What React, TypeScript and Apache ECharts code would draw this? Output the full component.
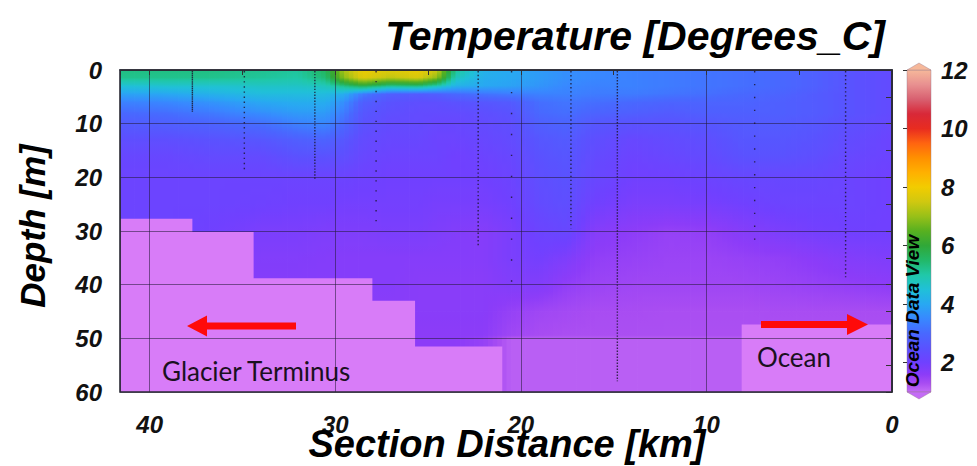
import React, { useEffect, useRef } from 'react';
import * as echarts from 'echarts';

// ---------- data ----------
// section distance of the grid columns (km), left (glacier) to right (ocean)
const distanceKm = [41.6, 39, 36.5, 34, 32, 30.5, 29.5, 28.5, 27, 25.5, 24.5, 23.5, 22, 20.5, 19, 17.5, 16, 14, 12, 10, 8, 6, 4, 2, 0];
// depth of the grid rows (m)
const depthM = [0, 1.5, 3, 4.5, 6, 8, 10, 13, 16, 20, 25, 30, 35, 40, 45, 49.5, 50, 60];
// temperature (deg C), one row per depth, one value per distance column
const temperature = [
  [5.3, 5.3, 5.3, 5.2, 5.1, 5.6, 7.2, 7.9, 7.7, 7.9, 7.5, 5.2, 4.2, 4.0, 3.8, 3.6, 3.5, 3.4, 3.3, 3.2, 3.1, 3.0, 2.8, 2.5, 2.3],
  [5.2, 5.2, 5.2, 5.1, 5.0, 5.4, 6.9, 7.7, 7.3, 7.6, 6.9, 4.8, 4.1, 4.0, 3.8, 3.6, 3.5, 3.4, 3.3, 3.2, 3.1, 3.0, 2.8, 2.5, 2.3],
  [4.5, 4.6, 4.6, 4.7, 4.7, 4.8, 5.3, 5.8, 5.2, 5.4, 4.9, 4.2, 4.0, 3.9, 3.7, 3.5, 3.4, 3.4, 3.3, 3.2, 3.1, 3.0, 2.8, 2.5, 2.3],
  [3.9, 4.0, 4.2, 4.4, 4.4, 4.4, 4.1, 3.3, 2.8, 2.7, 2.8, 3.0, 3.2, 3.3, 3.4, 3.4, 3.3, 3.3, 3.2, 3.1, 3.0, 2.9, 2.7, 2.5, 2.3],
  [3.4, 3.5, 3.7, 4.0, 4.1, 4.1, 3.6, 2.8, 2.5, 2.4, 2.4, 2.5, 2.6, 2.7, 3.1, 3.2, 3.1, 3.0, 2.9, 2.9, 2.9, 2.8, 2.7, 2.5, 2.3],
  [3.0, 3.1, 3.3, 3.6, 3.8, 3.8, 3.3, 2.6, 2.4, 2.3, 2.3, 2.3, 2.4, 2.5, 3.0, 3.1, 2.9, 2.8, 2.7, 2.8, 2.8, 2.8, 2.7, 2.5, 2.3],
  [2.7, 2.8, 2.9, 3.1, 3.4, 3.5, 3.0, 2.5, 2.3, 2.3, 2.2, 2.2, 2.3, 2.4, 2.8, 2.9, 2.6, 2.5, 2.5, 2.6, 2.7, 2.7, 2.6, 2.4, 2.2],
  [2.4, 2.4, 2.5, 2.6, 2.8, 2.9, 2.6, 2.3, 2.2, 2.2, 2.1, 2.1, 2.2, 2.3, 2.6, 2.7, 2.4, 2.2, 2.3, 2.4, 2.6, 2.6, 2.5, 2.3, 2.1],
  [2.2, 2.2, 2.3, 2.3, 2.5, 2.5, 2.4, 2.2, 2.1, 2.1, 2.1, 2.0, 2.1, 2.2, 2.5, 2.6, 2.3, 2.1, 2.2, 2.3, 2.5, 2.5, 2.4, 2.2, 2.1],
  [2.1, 2.1, 2.1, 2.1, 2.1, 2.1, 2.1, 2.05, 2.0, 2.0, 2.0, 2.0, 2.0, 2.1, 2.4, 2.5, 2.2, 2.0, 2.0, 2.1, 2.2, 2.2, 2.2, 2.1, 2.0],
  [2.1, 2.1, 2.1, 2.05, 2.0, 2.0, 1.95, 1.95, 1.95, 1.95, 1.9, 1.9, 1.9, 2.0, 2.3, 2.4, 2.0, 1.85, 1.85, 1.9, 2.0, 2.1, 2.1, 2.1, 2.0],
  [2.1, 2.1, 2.0, 1.85, 1.85, 1.8, 1.8, 1.8, 1.85, 1.85, 1.8, 1.75, 1.7, 1.85, 2.1, 2.2, 1.7, 1.6, 1.5, 1.55, 1.7, 1.85, 1.95, 2.0, 2.0],
  [1.9, 1.9, 1.8, 1.75, 1.75, 1.72, 1.7, 1.7, 1.7, 1.7, 1.7, 1.7, 1.7, 1.85, 1.95, 1.8, 1.55, 1.5, 1.45, 1.45, 1.5, 1.55, 1.65, 1.75, 1.8],
  [1.7, 1.7, 1.7, 1.7, 1.7, 1.7, 1.7, 1.7, 1.7, 1.65, 1.65, 1.65, 1.65, 1.75, 1.75, 1.55, 1.45, 1.4, 1.4, 1.4, 1.4, 1.45, 1.5, 1.55, 1.6],
  [1.65, 1.65, 1.65, 1.65, 1.65, 1.65, 1.65, 1.65, 1.65, 1.65, 1.65, 1.65, 1.65, 1.5, 1.4, 1.35, 1.3, 1.3, 1.28, 1.28, 1.28, 1.3, 1.3, 1.3, 1.3],
  [1.6, 1.6, 1.6, 1.6, 1.6, 1.6, 1.6, 1.6, 1.6, 1.6, 1.6, 1.6, 1.6, 1.4, 1.3, 1.27, 1.27, 1.27, 1.27, 1.27, 1.27, 1.27, 1.27, 1.27, 1.27],
  [1.6, 1.6, 1.6, 1.6, 1.6, 1.6, 1.6, 1.6, 1.6, 1.6, 1.6, 1.6, 1.5, 1.12, 1.12, 1.12, 1.12, 1.12, 1.12, 1.12, 1.12, 1.12, 1.12, 1.12, 1.12],
  [1.6, 1.6, 1.6, 1.6, 1.6, 1.6, 1.6, 1.6, 1.6, 1.6, 1.6, 1.6, 1.5, 1.12, 1.12, 1.12, 1.12, 1.12, 1.12, 1.12, 1.12, 1.12, 1.12, 1.12, 1.12],
];

// CTD stations: distance (km), deepest sample (m), sample spacing (m)
const stationDistance = [37.7, 34.9, 31.1, 27.8, 22.3, 20.5, 17.3, 14.8, 7.4, 2.5];
const stationMaxDepth = [7.8, 19, 20.5, 29, 33, 42, 29.5, 58, 32.6, 38.6];
const stationStep = [0.35, 0.95, 0.55, 1.85, 0.7, 3.9, 0.75, 0.56, 2.4, 0.75];

// bottom topography (land mask)
const glacierSideDist = [41.6, 37.7, 37.7, 34.4, 34.4, 28.0, 28.0, 25.7, 25.7, 21.0, 21.0, 41.6];
const glacierSideDepth = [27.7, 27.7, 30.2, 30.2, 38.8, 38.8, 43.0, 43.0, 51.5, 51.5, 60, 60];
const oceanSideDist = [8.1, 0, 0, 8.1];
const oceanSideDepth = [47.4, 47.4, 60, 60];

// axis ticks
const xTickLabels = [0, 10, 20, 30, 40];
const colorbarRange = [1, 12];
const colorbarTicks = [2, 4, 6, 8, 10, 12];

// ---------- colour palette (ODV style) ----------
const paletteStops: [number, string][] = [
  [1.0, '#c46cf6'], [1.3, '#a84cf2'], [1.6, '#8c3cf8'], [2.0, '#7040ff'], [2.5, '#5a52ff'],
  [3.0, '#4868ff'], [3.5, '#3888ff'], [4.0, '#28a8f2'], [4.5, '#20c0d8'], [5.0, '#20c8a8'],
  [5.5, '#22b868'], [6.0, '#30a838'], [6.5, '#58b020'], [7.0, '#98c018'], [7.5, '#d0c810'],
  [8.0, '#f2cc00'], [8.5, '#ffb000'], [9.0, '#ff9000'], [9.5, '#ff6410'], [10.0, '#e82c20'],
  [10.5, '#d82838'], [11.0, '#d86070'], [11.5, '#e89090'], [12.0, '#f6b89a'],
];
const paletteRgb = paletteStops.map(([v, c]) => [v, parseInt(c.slice(1, 3), 16), parseInt(c.slice(3, 5), 16), parseInt(c.slice(5, 7), 16)]);

function tempColor(v: number): string {
  const first = paletteRgb[0];
  const last = paletteRgb[paletteRgb.length - 1];
  if (v <= first[0]) return `rgb(${first[1]},${first[2]},${first[3]})`;
  if (v >= last[0]) return `rgb(${last[1]},${last[2]},${last[3]})`;
  for (let i = 0; i < paletteRgb.length - 1; i++) {
    const a = paletteRgb[i];
    const b = paletteRgb[i + 1];
    if (v >= a[0] && v <= b[0]) {
      const t = (v - a[0]) / (b[0] - a[0]);
      const r = Math.round(a[1] + (b[1] - a[1]) * t);
      const g = Math.round(a[2] + (b[2] - a[2]) * t);
      const bl = Math.round(a[3] + (b[3] - a[3]) * t);
      return `rgb(${r},${g},${bl})`;
    }
  }
  return `rgb(${last[1]},${last[2]},${last[3]})`;
}

const LAND_COLOR = '#d87cf8';
const BOLD_ITALIC = '"Liberation Sans", Arial, sans-serif';

export default function App() {
  const ref = useRef<HTMLDivElement>(null);

  useEffect(() => {
    if (!ref.current) return;
    const chart = echarts.init(ref.current, undefined, { renderer: 'svg' });

    // grid cells of the temperature section
    const cells: number[][] = [];
    for (let i = 0; i < depthM.length - 1; i++) {
      for (let j = 0; j < distanceKm.length - 1; j++) {
        cells.push([
          distanceKm[j], distanceKm[j + 1], depthM[i], depthM[i + 1],
          temperature[i][j], temperature[i][j + 1], temperature[i + 1][j], temperature[i + 1][j + 1],
        ]);
      }
    }

    const fieldRender = (params: any, api: any) => {
      const x0 = api.value(0), x1 = api.value(1), d0 = api.value(2), d1 = api.value(3);
      const tl = api.value(4), tr = api.value(5), bl = api.value(6), br = api.value(7);
      const p0 = api.coord([x0, d0]);
      const p1 = api.coord([x1, d1]);
      const top = Math.min(p0[1], p1[1]);
      const h = Math.abs(p1[1] - p0[1]);
      const dx = p1[0] - p0[0];
      const n = Math.max(1, Math.round(Math.abs(dx) / 5));
      const children: any[] = [];
      for (let k = 0; k < n; k++) {
        const t = (k + 0.5) / n;
        const topV = tl + (tr - tl) * t;
        const botV = bl + (br - bl) * t;
        const sx = p0[0] + (dx * k) / n;
        const ex = p0[0] + (dx * (k + 1)) / n;
        const stops = [0, 0.25, 0.5, 0.75, 1].map((s) => ({ offset: s, color: tempColor(topV + (botV - topV) * s) }));
        children.push({
          type: 'rect',
          shape: { x: Math.min(sx, ex) - 0.4, y: top - 0.4, width: Math.abs(ex - sx) + 0.8, height: h + 0.8 },
          style: { fill: new echarts.graphic.LinearGradient(0, 0, 0, 1, stops), stroke: null },
        });
      }
      return { type: 'group', children };
    };

    const landSeries = (dist: number[], depth: number[]) => ({
      type: 'custom',
      silent: true,
      z: 3,
      clip: true,
      data: dist.map((d, i) => [d, depth[i]]),
      renderItem: (params: any, api: any) => {
        if (params.dataIndex !== 0) return null;
        const pts = dist.map((d, i) => api.coord([d, depth[i]]));
        return { type: 'polygon', shape: { points: pts }, style: { fill: LAND_COLOR, stroke: null } };
      },
    });

    const arrowStyle = { fill: '#ff0a0a', stroke: null };

    chart.setOption({
      animation: false,
      backgroundColor: '#ffffff',
      grid: [
        { left: 120, top: 70, width: 772, height: 322, containLabel: false },
        { left: 907, top: 70, width: 24, height: 322, containLabel: false },
      ],
      xAxis: [
        {
          gridIndex: 0,
          type: 'value',
          min: 0,
          max: 41.6,
          interval: 10,
          inverse: true,
          z: 6,
          axisLine: { show: true, lineStyle: { color: '#2a2a35', width: 1.5 } },
          axisTick: { show: true, length: 5, lineStyle: { color: '#333' } },
          minorTick: { show: true, splitNumber: 2, length: 5, lineStyle: { color: '#333' } },
          splitLine: { show: true, lineStyle: { color: 'rgba(35,25,55,0.55)', width: 1 } },
          axisLabel: {
            customValues: xTickLabels,
            margin: 20,
            fontFamily: BOLD_ITALIC,
            fontWeight: 'bold',
            fontStyle: 'italic',
            fontSize: 24,
            color: '#111',
          },
        },
        { gridIndex: 1, type: 'value', min: 0, max: 1, show: false },
      ],
      yAxis: [
        {
          gridIndex: 0,
          type: 'value',
          min: 0,
          max: 60,
          interval: 10,
          inverse: true,
          z: 6,
          axisLine: { show: true, lineStyle: { color: '#2a2a35', width: 1.5 } },
          axisTick: { show: true, length: 6, lineStyle: { color: '#333' } },
          minorTick: { show: true, splitNumber: 2, length: 6, lineStyle: { color: '#333' } },
          splitLine: { show: true, lineStyle: { color: 'rgba(35,25,55,0.55)', width: 1 } },
          axisLabel: {
            margin: 18,
            fontFamily: BOLD_ITALIC,
            fontWeight: 'bold',
            fontStyle: 'italic',
            fontSize: 24,
            color: '#111',
          },
        },
        {
          gridIndex: 1,
          type: 'value',
          min: colorbarRange[0],
          max: colorbarRange[1],
          position: 'right',
          z: 6,
          axisLine: { show: false },
          splitLine: { show: false },
          axisTick: { show: true, inside: true, length: 4, customValues: colorbarTicks, lineStyle: { color: '#333' } },
          axisLabel: {
            customValues: colorbarTicks,
            margin: 10,
            fontFamily: BOLD_ITALIC,
            fontWeight: 'bold',
            fontStyle: 'italic',
            fontSize: 24,
            color: '#111',
          },
        },
      ],
      series: [
        {
          type: 'custom',
          silent: true,
          z: 2,
          clip: true,
          data: cells,
          encode: { x: [0, 1], y: [2, 3] },
          renderItem: fieldRender,
        },
        landSeries(glacierSideDist, glacierSideDepth),
        landSeries(oceanSideDist, oceanSideDepth),
        {
          type: 'custom',
          silent: true,
          z: 4,
          clip: true,
          data: stationDistance.map((d, i) => [d, stationMaxDepth[i], stationStep[i]]),
          renderItem: (params: any, api: any) => {
            const dist = api.value(0);
            const maxD = api.value(1);
            const step = api.value(2);
            const a = api.coord([dist, 0]);
            const b = api.coord([dist, maxD]);
            const pxPerM = (b[1] - a[1]) / maxD;
            const gap = Math.max(0.4, step * pxPerM - 1.4);
            return {
              type: 'line',
              shape: { x1: a[0], y1: a[1] + 1, x2: b[0], y2: b[1] },
              style: { stroke: 'rgba(30,25,50,0.85)', lineWidth: 1.4, lineDash: [1.4, gap] },
            };
          },
        },
        {
          type: 'custom',
          silent: true,
          xAxisIndex: 1,
          yAxisIndex: 1,
          clip: false,
          z: 2,
          data: [[colorbarRange[0], colorbarRange[1]]],
          renderItem: (params: any, api: any) => {
            const lo = api.value(0);
            const hi = api.value(1);
            const pt = api.coord([0, hi]);
            const pb = api.coord([1, lo]);
            const x = pt[0];
            const y = pt[1];
            const w = pb[0] - pt[0];
            const h = pb[1] - pt[1];
            const stops = paletteStops
              .map(([v, c]) => ({ offset: (hi - v) / (hi - lo), color: c }))
              .sort((p, q) => p.offset - q.offset);
            return {
              type: 'group',
              children: [
                {
                  type: 'rect',
                  shape: { x, y, width: w, height: h },
                  style: { fill: new echarts.graphic.LinearGradient(0, 0, 0, 1, stops), stroke: 'rgba(150,120,140,0.5)', lineWidth: 0.8 },
                },
                {
                  type: 'polygon',
                  shape: { points: [[x, y], [x + w / 2, y - 7], [x + w, y]] },
                  style: { fill: tempColor(hi), stroke: 'rgba(150,120,140,0.5)', lineWidth: 0.8 },
                },
                {
                  type: 'polygon',
                  shape: { points: [[x, y + h], [x + w / 2, y + h + 7], [x + w, y + h]] },
                  style: { fill: tempColor(lo), stroke: 'rgba(150,120,140,0.5)', lineWidth: 0.8 },
                },
              ],
            };
          },
        },
      ],
      graphic: [
        {
          type: 'rect',
          z: 100,
          silent: true,
          shape: { x: 120, y: 70, width: 772, height: 322 },
          style: { fill: null, stroke: '#2a2a35', lineWidth: 1.6 },
        },
        {
          type: 'text',
          z: 100,
          x: 885,
          y: 36,
          style: {
            text: 'Temperature [Degrees_C]',
            font: `italic bold 41px ${BOLD_ITALIC}`,
            fill: '#000',
            align: 'right',
            verticalAlign: 'middle',
            textAlign: 'right',
            textVerticalAlign: 'middle',
          },
        },
        {
          type: 'text',
          z: 100,
          x: 32,
          y: 226,
          rotation: Math.PI / 2,
          style: {
            text: 'Depth [m]',
            font: `italic bold 35px ${BOLD_ITALIC}`,
            fill: '#000',
            align: 'center',
            verticalAlign: 'middle',
            textAlign: 'center',
            textVerticalAlign: 'middle',
          },
        },
        {
          type: 'text',
          z: 100,
          x: 507,
          y: 444,
          style: {
            text: 'Section Distance [km]',
            font: `italic bold 38px ${BOLD_ITALIC}`,
            fill: '#000',
            align: 'center',
            verticalAlign: 'middle',
            textAlign: 'center',
            textVerticalAlign: 'middle',
          },
        },
        {
          type: 'text',
          z: 100,
          x: 912,
          y: 311,
          rotation: Math.PI / 2,
          style: {
            text: 'Ocean Data View',
            font: `italic bold 19px ${BOLD_ITALIC}`,
            fill: '#000',
            align: 'center',
            verticalAlign: 'middle',
            textAlign: 'center',
            textVerticalAlign: 'middle',
          },
        },
        {
          type: 'polygon',
          z: 100,
          shape: { points: [[296, 322.5], [207, 322.5], [207, 315.5], [187, 326], [207, 336.5], [207, 329.5], [296, 329.5]] },
          style: arrowStyle,
        },
        {
          type: 'polygon',
          z: 100,
          shape: { points: [[761, 321], [847, 321], [847, 314], [868, 324.5], [847, 335], [847, 328], [761, 328]] },
          style: arrowStyle,
        },
        {
          type: 'text',
          z: 100,
          x: 162,
          y: 371,
          style: {
            text: 'Glacier Terminus',
            font: '26px Lato, "Open Sans", sans-serif',
            fill: '#1a1020',
            align: 'left',
            verticalAlign: 'middle',
            textAlign: 'left',
            textVerticalAlign: 'middle',
          },
        },
        {
          type: 'text',
          z: 100,
          x: 757,
          y: 357,
          style: {
            text: 'Ocean',
            font: '26px Lato, "Open Sans", sans-serif',
            fill: '#1a1020',
            align: 'left',
            verticalAlign: 'middle',
            textAlign: 'left',
            textVerticalAlign: 'middle',
          },
        },
      ],
    });

    return () => {
      chart.dispose();
    };
  }, []);

  return <div ref={ref} style={{ position: 'absolute', left: 0, top: 0, width: 977, height: 466 }} />;
}
